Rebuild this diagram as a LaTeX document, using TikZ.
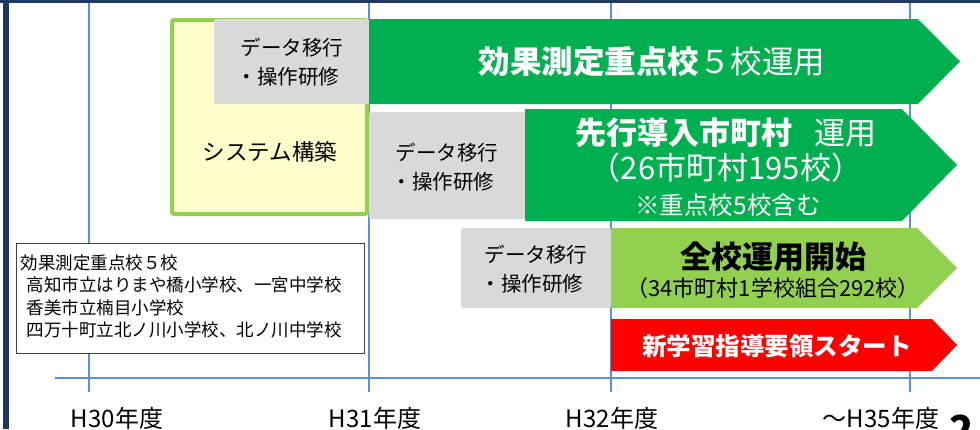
\documentclass[tikz,border=0pt]{standalone}
\usepackage{fontspec}
\setmainfont{Noto Sans CJK JP}
\definecolor{navy}{RGB}{31,56,100}
\definecolor{yearblue}{RGB}{91,143,214}
\definecolor{rungreen}{RGB}{0,176,80}
\definecolor{lightgreen}{RGB}{146,208,80}
\definecolor{paleyellow}{RGB}{255,255,204}
\definecolor{boxgray}{RGB}{217,217,217}
\definecolor{startred}{RGB}{255,0,0}

\begin{document}
\begin{tikzpicture}[x=1pt,y=-1pt,
    yearline/.style={yearblue,line width=1.5pt},
    graybox/.style={fill=boxgray,rounded corners=2pt},
    graytext/.style={align=left,font=\fontsize{20.5}{29}\selectfont},
    yeartext/.style={anchor=base,font=\fontsize{24}{28}\selectfont}]
    \useasboundingbox (0,0) rectangle (980,429);

    % frame
    \fill[navy] (0,0) rectangle (980,3);
    \fill[navy] (3,0) rectangle (8.5,429);

    % year lines and axis
    \foreach \x in {89,369,611,910} {
        \draw[yearline] (\x,3) -- (\x,392);
    }
    \draw[yearline] (55,378) -- (980,378);

    % system build
    \draw[lightgreen,line width=4pt,fill=paleyellow,rounded corners=2pt] (172,20) rectangle (367,214);
    \node (build) at (270,152) {\fontsize{22.5}{27}\selectfont システム構築};

    % row 1
    \fill[graybox] (214,19) rectangle (369,104);
    \node[graytext] (move1) at (292,62) {データ移行\\\hspace{-4pt}・操作研修};
    \fill[rungreen] (369,19) -- (918,19) -- (960,61.5) -- (918,104) -- (369,104) -- cycle;
    \node[white] (test) at (652,62) {\fontsize{31.5}{36}\selectfont\bfseries 効果測定重点校\mdseries ５校運用};

    % row 2
    \fill[graybox] (369,112) rectangle (525,219);
    \node[graytext] (move2) at (447,167) {データ移行\\\hspace{-4pt}・操作研修};
    \fill[rungreen] (525,109) -- (902,109) -- (957,165) -- (902,221) -- (525,221) -- cycle;
    \node[white] (pilot) at (726,133) {\fontsize{31}{36}\selectfont\bfseries 先行導入市町村\mdseries\hspace{22pt}運用};
    \node[white] (pilotnum) at (726,168) {\fontsize{31}{35}\selectfont （26市町村195校）};
    \node[white] (pilotnote) at (728,205) {\fontsize{24.5}{28}\selectfont ※重点校5校含む};

    % row 3
    \fill[graybox] (461,228) rectangle (611,308);
    \node[graytext] (move3) at (536,269) {データ移行\\\hspace{-4pt}・操作研修};
    \fill[lightgreen] (611,228) -- (917,228) -- (957,268) -- (917,308) -- (611,308) -- cycle;
    \node (allrun) at (773,257) {\fontsize{31}{36}\selectfont\bfseries 全校運用開始};
    \node (allnum) at (773,288) {\fontsize{22}{26}\selectfont （34市町村1学校組合292校）};

    % row 4
    \fill[startred] (611,319) -- (932,319) -- (957,345) -- (932,371) -- (611,371) -- cycle;
    \node[white] (guide) at (777,346) {\fontsize{24.5}{28}\selectfont\bfseries 新学習指導要領スタート};

    % note
    \draw[black!75,fill=white,line width=1pt] (16,243) rectangle (364,353);
    \node[anchor=north west,align=left,font=\fontsize{17.5}{22.5}\selectfont] (note) at (17,251)
        {効果測定重点校５校\\
         \hspace{6pt}高知市立はりまや橋小学校、一宮中学校\\
         \hspace{6pt}香美市立楠目小学校\\
         \hspace{6pt}四万十町立北ノ川小学校、北ノ川中学校};

    % years
    \node[yeartext] (y30) at (117,427) {H30年度};
    \node[yeartext] (y31) at (375,427) {H31年度};
    \node[yeartext] (y32) at (612,427) {H32年度};
    \node[yeartext] (y35) at (881,427) {～H35年度};
    \node[anchor=base west,font=\fontsize{40}{44}\selectfont\bfseries] (page) at (946,444) {2};
\end{tikzpicture}
\end{document}
